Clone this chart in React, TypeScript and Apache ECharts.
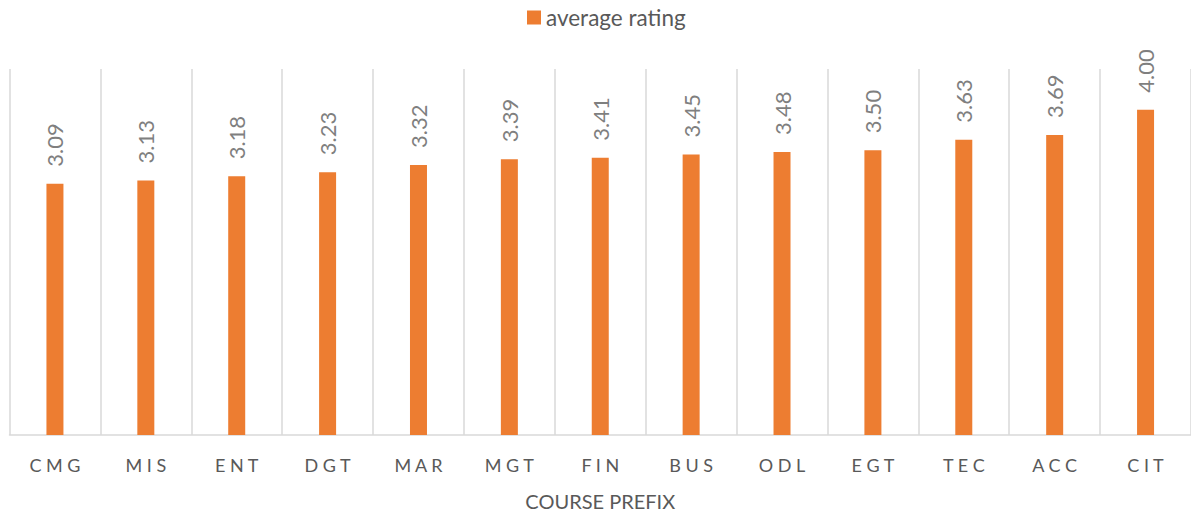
import React, { useEffect, useRef } from "react";
import * as echarts from "echarts";

const categories = ["CMG", "MIS", "ENT", "DGT", "MAR", "MGT", "FIN", "BUS", "ODL", "EGT", "TEC", "ACC", "CIT"];
const ratings = [3.09, 3.13, 3.18, 3.23, 3.32, 3.39, 3.41, 3.45, 3.48, 3.5, 3.63, 3.69, 4.0];
const seriesName = "average rating";
const axisTitle = "COURSE PREFIX";

const FONT = "Lato, 'Open Sans', sans-serif";

export default function App() {
  const ref = useRef<HTMLDivElement>(null);
  useEffect(() => {
    if (!ref.current) return;
    const chart = echarts.init(ref.current, undefined, { renderer: "svg" });
    chart.setOption({
      animation: false,
      backgroundColor: "#ffffff",
      textStyle: { fontFamily: FONT },
      legend: {
        top: 1,
        left: 522,
        itemWidth: 14,
        itemHeight: 14,
        itemGap: 10,
        icon: "rect",
        textStyle: { fontSize: 22.5, color: "#595959", fontFamily: FONT },
        data: [seriesName],
      },
      grid: { left: 9.5, width: 1186, top: 69, bottom: 78.5, containLabel: false },
      xAxis: {
        type: "category",
        data: categories,
        name: axisTitle,
        nameLocation: "middle",
        nameGap: 66,
        nameTextStyle: { fontSize: 20, color: "#595959", fontFamily: FONT, verticalAlign: "middle" },
        axisLine: { show: true, lineStyle: { color: "#d9d9d9", width: 1.5 } },
        axisTick: { show: false },
        axisLabel: {
          margin: 21,
          fontSize: 18,
          color: "#595959",
          fontFamily: FONT,
          formatter: (v: string) => v.split("").join(" "),
        },
        splitLine: { show: true, lineStyle: { color: "#d9d9d9", width: 1.5 } },
      },
      yAxis: {
        type: "value",
        min: 0,
        max: 4.5,
        show: false,
        splitLine: { show: false },
      },
      series: [
        {
          name: seriesName,
          type: "bar",
          data: ratings,
          barWidth: 17,
          itemStyle: { color: "#ED7D31" },
          label: {
            show: true,
            position: ["50%", -17],
            rotate: 90,
            align: "left",
            verticalAlign: "middle",
            fontSize: 22,
            color: "#7f7f7f",
            fontFamily: FONT,
            formatter: (p: any) => Number(p.value).toFixed(2),
          },
        },
      ],
    });
    return () => chart.dispose();
  }, []);
  return (
    <div
      ref={ref}
      style={{ position: "absolute", left: 0, top: 0, width: 1191, height: 516 }}
    />
  );
}
